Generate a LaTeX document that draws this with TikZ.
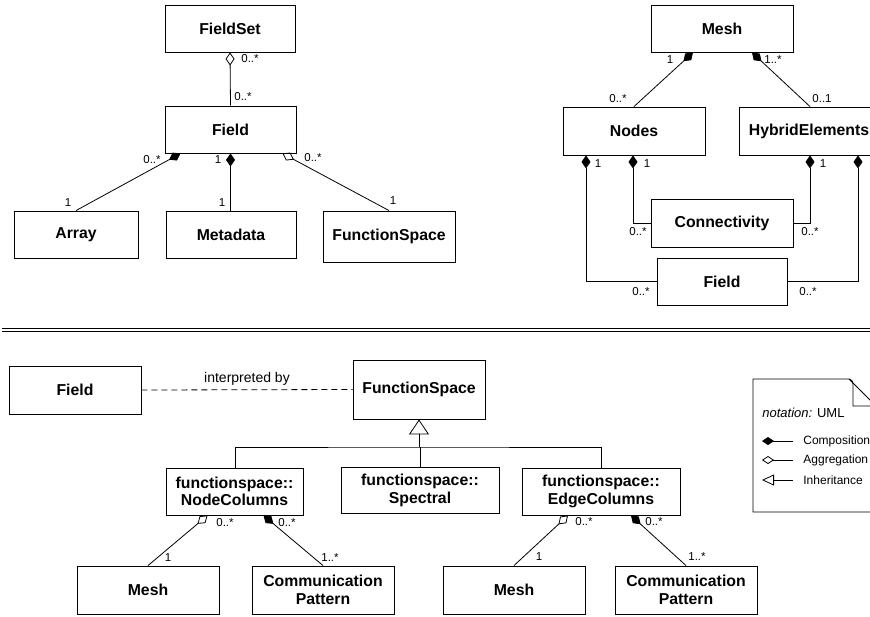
\documentclass[tikz,border=0pt]{standalone}
\usepackage{fontspec}
\setmainfont{Liberation Sans}
\usetikzlibrary{arrows.meta}
\begin{document}
\begin{tikzpicture}[x=1pt,y=-1pt,line width=0.8pt,
	box/.style={draw,line width=0.9pt,minimum width=#1,minimum height=47pt,inner sep=0pt,align=center,font=\fontsize{15.8}{17.6}\selectfont\bfseries},
	box/.default=130pt,
	mult/.style={inner sep=0pt,font=\fontsize{11.5}{13}\selectfont},
	comp/.style={{Diamond[length=13pt,width=9pt]}-},
	aggr/.style={{Diamond[open,length=13pt,width=9pt]}-},
	inh/.style={{Triangle[open,length=15pt,width=20pt]}-}]
		\useasboundingbox (0,0) rectangle (870,616);
		\clip (0,0) rectangle (870,616);
		% field set and field
		\node[box] (fieldset) at (230,28.5) {FieldSet};
		\node[box=131pt] (field) at (230.5,129.5) {Field};
		\node[box=124pt] (array) at (76,234.5) {Array};
		\node[box] (meta) at (231,234.5) {Metadata};
		\node[box=132pt,minimum height=51pt] (fspace) at (389,236.5) {FunctionSpace};
		\draw[aggr] (fieldset.south) -- (field.north);
		\draw[comp] ([xshift=-50pt]field.south) -- (array.north);
		\draw[comp] (field.south) -- (field.south |- meta.north);
		\draw[aggr] ([xshift=52pt]field.south) -- (fspace.north);
		\node[mult] (fs1) at (250,59) {0..*};
		\node[mult] (fs2) at (243,97) {0..*};
		\node[mult] (ar1) at (152,160) {0..*};
		\node[mult] (ar2) at (68,203) {1};
		\node[mult] (md1) at (218,160) {1};
		\node[mult] (md2) at (222,203) {1};
		\node[mult] (sp1) at (313,158) {0..*};
		\node[mult] (sp2) at (393,201) {1};
		% mesh
		\node[box=142pt] (mesh) at (722,28.5) {Mesh};
		\node[box=142pt,minimum height=48pt] (nodes) at (634,131) {Nodes};
		\node[box=140pt,minimum height=48pt] (hybrid) at (809,131) {HybridElements};
		\node[box=142pt,minimum height=48pt] (conn) at (722,223) {Connectivity};
		\node[box] (mfield) at (722,281.5) {Field};
		\draw[comp] ([xshift=-29pt]mesh.south) -- (nodes.north);
		\draw[comp] ([xshift=30pt]mesh.south) -- ([xshift=1pt]hybrid.north);
		\draw[comp] ([xshift=-1pt]nodes.south) |- (conn.west);
		\draw[comp] ([xshift=-48pt]nodes.south) |- (mfield.west);
		\draw[comp] ([xshift=1pt]hybrid.south) |- (conn.east);
		\draw[comp] ([xshift=49pt]hybrid.south) |- (mfield.east);
		\node[mult] (ms1) at (670,60) {1};
		\node[mult] (ms2) at (618,99) {0..*};
		\node[mult] (ms3) at (773,60) {1..*};
		\node[mult] (ms4) at (822,99) {0..1};
		\node[mult] (nd1) at (647,164) {1};
		\node[mult] (nd2) at (638,232) {0..*};
		\node[mult] (nd3) at (598,164) {1};
		\node[mult] (nd4) at (641,292) {0..*};
		\node[mult] (hy1) at (823,164) {1};
		\node[mult] (hy2) at (810,232) {0..*};
		\node[mult] (hy3) at (808,292) {0..*};
		% separator
		\draw[line width=0.9pt,double distance=2.6pt] (2,330) -- (872,330);
		% function spaces
		\node[box=132pt,minimum height=48pt] (bfield) at (75,390) {Field};
		\node[box=132pt,minimum height=59pt] (bspace) at (419,389.5) {FunctionSpace};
		\draw[dash pattern=on 6pt off 4pt] (bfield.east) -- node[above=4pt,inner sep=0pt,font=\fontsize{14}{16}\selectfont] (interp) {interpreted by} (bspace.west);
		\node[box=137pt] (nodecol) at (234.5,491.5) {functionspace::\\NodeColumns};
		\node[box=158pt,minimum height=46pt] (spectral) at (420,490.5) {functionspace::\\Spectral};
		\node[box=158pt] (edgecol) at (601,491.5) {functionspace::\\EdgeColumns};
		\coordinate (bar) at (419,447);
		\draw[inh] (bspace.south) -- (bspace.south |- bar);
		\draw ([xshift=0.5pt]nodecol.north) |- (bar) -| (edgecol.north);
		\draw (spectral.north) -- (spectral.north |- bar);
		\node[box=142pt,minimum height=48pt] (mesha) at (148,590) {Mesh};
		\node[box=142pt,minimum height=48pt] (comma) at (323,590) {Communication\\Pattern};
		\node[box=142pt,minimum height=48pt] (meshb) at (514,590) {Mesh};
		\node[box=142pt,minimum height=48pt] (commb) at (686,590) {Communication\\Pattern};
		\draw[aggr] ([xshift=-27pt]nodecol.south) -- (mesha.north);
		\draw[comp] ([xshift=29pt]nodecol.south) -- (comma.north);
		\draw[aggr] ([xshift=-33pt]edgecol.south) -- (meshb.north);
		\draw[comp] ([xshift=30pt]edgecol.south) -- (commb.north);
		\node[mult] (nc1) at (225,523) {0..*};
		\node[mult] (nc2) at (168,558) {1};
		\node[mult] (nc3) at (287,523) {0..*};
		\node[mult] (nc4) at (330,558) {1..*};
		\node[mult] (ec1) at (584,522) {0..*};
		\node[mult] (ec2) at (539,557) {1};
		\node[mult] (ec3) at (654,522) {0..*};
		\node[mult] (ec4) at (697,557) {1..*};
		% legend note
		\draw[line width=0.9pt] (753,379) -- (849,379) -- (876,406) -- (876,512) -- (753,512) -- cycle;
		\draw[line width=0.9pt] (849,379) .. controls (853,381) .. (853,388) -- (853,406) -- (876,406);
		\node[anchor=base west,inner sep=0pt,font=\fontsize{13}{15}\selectfont] (nota) at (762,417) {\textit{notation:} UML};
		\draw[{Diamond[length=12pt,width=8pt]}-] (762,441) -- (793,441);
		\draw[{Diamond[open,length=12pt,width=8pt]}-] (762,460) -- (793,460);
		\draw[{Triangle[open,length=12pt,width=11pt]}-] (762,480) -- (793,480);
		\node[anchor=west,inner sep=0pt,font=\fontsize{12}{14}\selectfont] (lcomp) at (803,441) {Composition};
		\node[anchor=west,inner sep=0pt,font=\fontsize{12}{14}\selectfont] (laggr) at (803,460) {Aggregation};
		\node[anchor=west,inner sep=0pt,font=\fontsize{12}{14}\selectfont] (linh) at (803,480) {Inheritance};
\end{tikzpicture}
\end{document}
